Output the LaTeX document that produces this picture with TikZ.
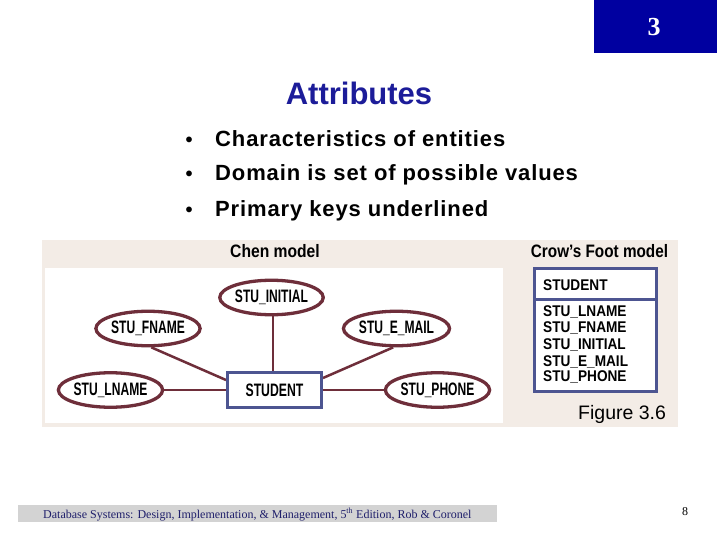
\documentclass[tikz,border=0pt]{standalone}
\usepackage{fontspec}
\usepackage{graphicx}
\setmainfont{Liberation Sans}
\newfontfamily\serifface{Liberation Serif}
\usetikzlibrary{shapes.geometric,calc}
\definecolor{slideblue}{HTML}{0000A0}
\definecolor{titleblue}{HTML}{1C1C99}
\definecolor{beige}{HTML}{F3ECE6}
\definecolor{maroon}{HTML}{6E2E3A}
\definecolor{entblue}{HTML}{4D5591}
\definecolor{footgray}{HTML}{D3D3D3}
\definecolor{footblue}{HTML}{1F1F6B}
\newcommand{\cnd}[2]{\scalebox{#1}[1]{#2}}
\pgfdeclarelayer{bglayer}
\pgfdeclarelayer{connlayer}
\pgfsetlayers{bglayer,connlayer,main}
\tikzset{
  attr/.style={ellipse, draw=maroon, line width=3.3pt, fill=white, minimum width=103.5pt, minimum height=34.5pt, inner sep=0pt, font=\fontsize{18}{20}\selectfont\bfseries},
  entity/.style={draw=entblue, line width=3pt, fill=white, minimum width=94pt, minimum height=35pt, inner sep=0pt, font=\fontsize{18}{20}\selectfont\bfseries},
  conn/.style={draw=maroon, line width=2.5pt},
  bullettxt/.style={anchor=base west, inner sep=0pt, font=\fontsize{22}{26}\selectfont\bfseries\addfontfeature{LetterSpace=4}},
  crowtxt/.style={anchor=base west, inner sep=0pt, font=\fontsize{15.5}{17}\selectfont\bfseries},
}
\begin{document}
\begin{tikzpicture}[x=1pt,y=-1pt]
\useasboundingbox (0,0) rectangle (720,540);
\begin{pgfonlayer}{bglayer}
\fill[white] (0,0) rectangle (720,540);
\fill[beige] (42,240) rectangle (678,427);
\fill[white] (45,268) rectangle (503,423);
\end{pgfonlayer}
% slide number box
\fill[slideblue] (594,0) rectangle (717,53);
\node[text=white, font=\serifface\fontsize{26}{28}\selectfont\bfseries] (num) at (654,27) {3};
% title
\node[anchor=base, inner sep=0pt, text=titleblue, font=\fontsize{31}{34}\selectfont\bfseries] (title) at (359,105) {Attributes};
% bullets
\foreach \yy/\txt/\nm in {147/Characteristics of entities/b1, 181/Domain is set of possible values/b2, 216/Primary keys underlined/b3}{
  \node[anchor=base, inner sep=0pt, font=\fontsize{20}{24}\selectfont\bfseries] (\nm dot) at (189,\yy) {•};
  \node[bullettxt] (\nm) at (215,\yy) {\txt};
}
% panel titles
\node[inner sep=0pt, font=\fontsize{18}{20}\selectfont\bfseries] (chen) at (275,251) {\cnd{0.87}{Chen model}};
\node[inner sep=0pt, font=\fontsize{18}{20}\selectfont\bfseries] (crowt) at (599.5,251) {\cnd{0.85}{Crow’s Foot model}};
% Chen diagram
\node[entity] (stu) at (274.5,390) {\cnd{0.68}{STUDENT}};
\node[attr] (ini) at (271.5,297.5) {\cnd{0.67}{STU\_INITIAL}};
\node[attr] (fn) at (148,328.5) {\cnd{0.67}{STU\_FNAME}};
\node[attr] (em) at (396.5,328.5) {\cnd{0.67}{STU\_E\_MAIL}};
\node[attr] (ln) at (110.5,390) {\cnd{0.67}{STU\_LNAME}};
\node[attr] (ph) at (437.5,390) {\cnd{0.67}{STU\_PHONE}};
\begin{pgfonlayer}{connlayer}
\draw[conn] ($(ini.south)+(1.5,0)$) -- ($(ini.south |- stu.north)+(1.5,0)$);
\draw[conn] (fn.-80) -- ($(stu.north west)+(0,9)$);
\draw[conn] (em.-100) -- ($(stu.north east)+(0,7)$);
\draw[conn] (ln.east) -- (stu.west);
\draw[conn] (stu.east) -- (ph.west);
\end{pgfonlayer}
% Crow's foot entity
\draw[entblue, line width=3pt, fill=white] (534.5,268.5) rectangle (656.5,391.5);
\draw[entblue, line width=3pt] (534.5,299) -- (656.5,299);
\node[crowtxt] (cf0) at (543,290) {\cnd{0.88}{STUDENT}};
\node[crowtxt] (cf1) at (543,316.5) {\cnd{0.88}{STU\_LNAME}};
\node[crowtxt] (cf2) at (543,332.5) {\cnd{0.88}{STU\_FNAME}};
\node[crowtxt] (cf3) at (543,349.5) {\cnd{0.88}{STU\_INITIAL}};
\node[crowtxt] (cf4) at (543,366.5) {\cnd{0.88}{STU\_E\_MAIL}};
\node[crowtxt] (cf5) at (543,381.5) {\cnd{0.88}{STU\_PHONE}};
\node[anchor=base west, inner sep=0pt, font=\fontsize{19.5}{22}\selectfont] (fig) at (578,419) {Figure 3.6};
% footer
\fill[footgray] (18,505) rectangle (497,522);
\node[anchor=base west, inner sep=0pt, text=footblue, font=\serifface\fontsize{12}{14}\selectfont] (foot) at (43,518) {Database Systems: Design, Implementation, \& Management, 5\textsuperscript{th} Edition, Rob \& Coronel};
\node[anchor=base, inner sep=0pt, font=\serifface\fontsize{12}{14}\selectfont] (page) at (685,515) {8};
\end{tikzpicture}
\end{document}
